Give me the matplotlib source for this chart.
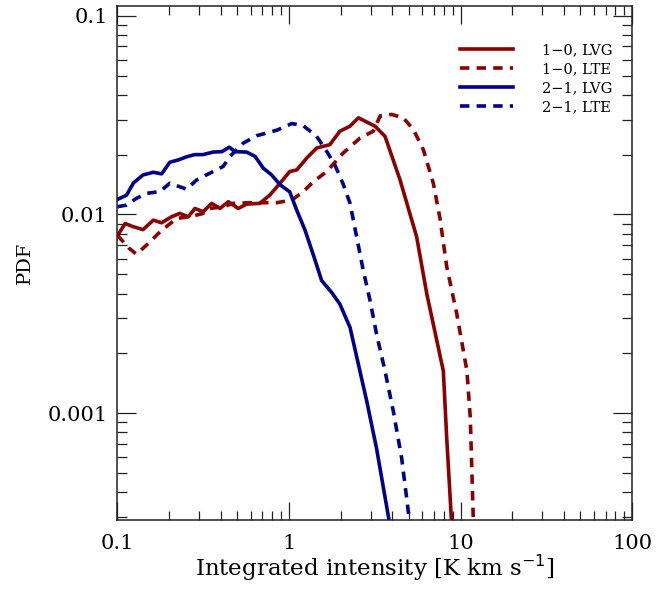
"""PDF of integrated intensity for the 1-0 and 2-1 lines, LVG vs LTE.

Values read off the reference figure (log-log axes).
"""
import matplotlib
matplotlib.use("Agg")
import matplotlib.pyplot as plt
from matplotlib.ticker import LogLocator, NullFormatter, FixedFormatter, FixedLocator

# ---- data ----
# 1-0, LVG
x10_lvg = [0.100, 0.111, 0.123, 0.141, 0.162, 0.181, 0.207, 0.231, 0.259, 0.283,
           0.316, 0.354, 0.396, 0.443, 0.506, 0.566, 0.677, 0.774, 0.887, 1.01,
           1.11, 1.27, 1.45, 1.73, 1.98, 2.27, 2.54, 3.17, 3.63, 4.44,
           5.55, 6.36, 7.94, 8.31, 8.89]
y10_lvg = [0.00783, 0.00900, 0.00869, 0.00839, 0.00936, 0.00908, 0.00974, 0.01012, 0.00974, 0.01072,
           0.01032, 0.01137, 0.01072, 0.01159, 0.01072, 0.01127, 0.01137, 0.01253, 0.01436, 0.01644,
           0.01675, 0.01922, 0.02160, 0.02244, 0.02622, 0.02781, 0.03063, 0.02781, 0.02471, 0.01493,
           0.00771, 0.00398, 0.00163, 0.000748, 0.000272]

# 1-0, LTE
x10_lte = [0.100, 0.116, 0.129, 0.151, 0.177, 0.221, 0.265, 0.316, 0.346, 0.414,
           0.473, 0.593, 0.708, 0.848, 1.04, 1.21, 1.39, 1.66, 2.07, 2.60,
           3.10, 3.40, 3.97, 4.64, 5.31, 6.07, 6.94, 7.59, 8.31, 9.51,
           10.9, 11.4, 11.9]
y10_lte = [0.00786, 0.00680, 0.00631, 0.00713, 0.00817, 0.00955, 0.00974, 0.01012, 0.01072, 0.01094,
           0.01137, 0.01146, 0.01146, 0.01146, 0.01181, 0.01302, 0.01464, 0.01644, 0.02037, 0.02427,
           0.02622, 0.03128, 0.03186, 0.03063, 0.02675, 0.02117, 0.01436, 0.00955, 0.00546, 0.00316,
           0.00163, 0.000946, 0.000272]

# 2-1, LVG
x21_lvg = [0.100, 0.113, 0.124, 0.141, 0.162, 0.181, 0.202, 0.226, 0.253, 0.283,
           0.316, 0.361, 0.406, 0.449, 0.484, 0.566, 0.634, 0.708, 0.793, 0.887,
           1.01, 1.11, 1.24, 1.39, 1.55, 1.77, 1.98, 2.27, 2.84, 3.24,
           3.88]
y21_lvg = [0.0119, 0.0125, 0.0144, 0.0158, 0.0163, 0.0160, 0.0183, 0.0188, 0.0195, 0.0200,
           0.0200, 0.0206, 0.0207, 0.0218, 0.0207, 0.0206, 0.0196, 0.0171, 0.0158, 0.0141,
           0.0130, 0.0105, 0.00834, 0.00622, 0.00465, 0.00406, 0.00354, 0.00270, 0.00115, 0.000665,
           0.000272]

# 2-1, LTE
x21_lte = [0.100, 0.113, 0.129, 0.148, 0.177, 0.202, 0.253, 0.290, 0.346, 0.414,
           0.453, 0.542, 0.648, 0.848, 1.04, 1.21, 1.45, 1.66, 1.85, 2.06,
           2.27, 2.48, 2.71, 2.97, 3.24, 3.63, 4.06, 4.54, 5.08]
y21_lte = [0.01094, 0.01114, 0.01205, 0.01277, 0.01303, 0.01436, 0.01340, 0.01493, 0.01614, 0.01745,
           0.01960, 0.02286, 0.02489, 0.02652, 0.02866, 0.02799, 0.02471, 0.02075, 0.01778, 0.01436,
           0.01137, 0.00771, 0.00523, 0.00368, 0.00250, 0.00163, 0.00102, 0.000593, 0.000272]

labels = ["1\u22120, LVG", "1\u22120, LTE", "2\u22121, LVG", "2\u22121, LTE"]
x_ticks = [0.1, 1, 10, 100]
x_ticklabels = ["0.1", "1", "10", "100"]
y_ticks = [0.001, 0.01, 0.1]
y_ticklabels = ["0.001", "0.01", "0.1"]

RED = "#8b0000"
BLUE = "#00008b"
LW = 2.6
DASH = (0, (2.6, 2.0))

plt.rcParams["font.family"] = ["DejaVu Serif"]

fig = plt.figure(figsize=(6.71, 5.89), dpi=100)
ax = fig.add_axes([0.175, 0.117, 0.767, 0.873])

ax.plot(x10_lvg, y10_lvg, color=RED, lw=LW, ls="-", label=labels[0])
ax.plot(x10_lte, y10_lte, color=RED, lw=LW, ls=DASH, label=labels[1])
ax.plot(x21_lvg, y21_lvg, color=BLUE, lw=LW, ls="-", label=labels[2])
ax.plot(x21_lte, y21_lte, color=BLUE, lw=LW, ls=DASH, label=labels[3])

ax.set_xscale("log")
ax.set_yscale("log")
ax.set_xlim(0.1, 100)
ax.set_ylim(2.9e-4, 0.112)

ax.xaxis.set_major_locator(FixedLocator(x_ticks))
ax.xaxis.set_major_formatter(FixedFormatter(x_ticklabels))
ax.yaxis.set_major_locator(FixedLocator(y_ticks))
ax.yaxis.set_major_formatter(FixedFormatter(y_ticklabels))
for axis in (ax.xaxis, ax.yaxis):
    axis.set_minor_locator(LogLocator(base=10, subs=range(2, 10), numticks=20))
    axis.set_minor_formatter(NullFormatter())

ax.tick_params(which="both", direction="in", top=True, right=True, width=0.9, color="#222222")
ax.tick_params(axis="y", which="major", length=13.5, pad=7, labelsize=15)
ax.tick_params(axis="y", which="minor", length=7.5)
ax.tick_params(axis="x", which="major", length=12.7, pad=10, labelsize=15)
ax.tick_params(axis="x", which="minor", length=6.5)
for sp in ax.spines.values():
    sp.set_linewidth(1.1)
    sp.set_color("#222222")

ax.set_xlabel("Integrated intensity [K km s$^{-1}$]", fontsize=16.5, labelpad=0)
ax.set_ylabel("PDF", fontsize=14, labelpad=10)

ax.legend(loc="upper left", bbox_to_anchor=(0.666, 0.927), frameon=False,
          fontsize=10.5, handlelength=3.6, handletextpad=2.0, labelspacing=0.33,
          borderpad=0, borderaxespad=0)

fig.savefig("out.png", dpi=100)
